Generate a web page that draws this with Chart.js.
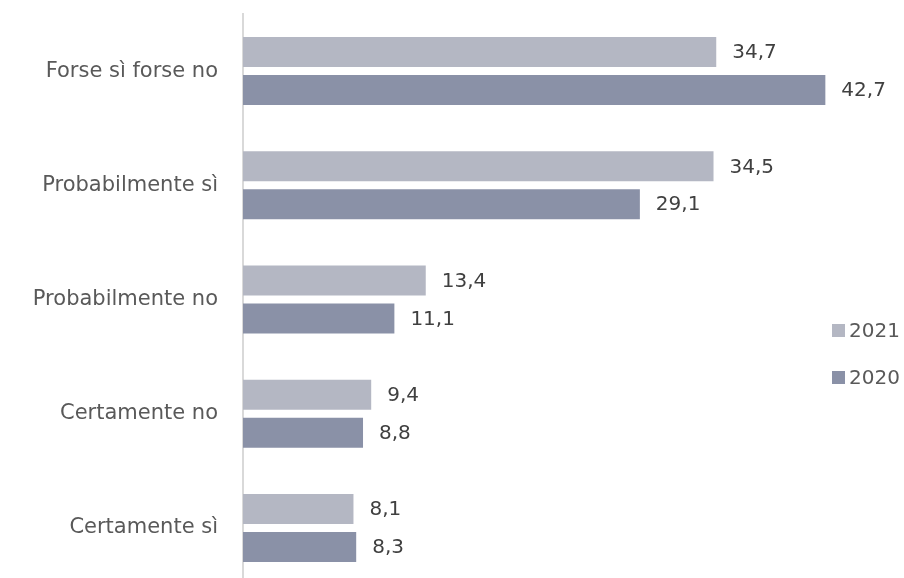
<!DOCTYPE html>
<html>
<head>
<meta charset="utf-8">
<script src="https://cdn.jsdelivr.net/npm/chart.js@4/dist/chart.umd.min.js"></script>
<style>
  html, body { margin: 0; padding: 0; background: #fff; overflow: hidden; }
  canvas { display: block; }
</style>
</head>
<body>
<canvas id="chart" width="904" height="590"></canvas>
<script>
// dati del grafico
const categories = ['Forse sì forse no', 'Probabilmente sì', 'Probabilmente no', 'Certamente no', 'Certamente sì'];
const seriesNames = ['2021', '2020'];
const values2021 = [34.7, 34.5, 13.4, 9.4, 8.1];
const values2020 = [42.7, 29.1, 11.1, 8.8, 8.3];
const colors = ['#b4b7c3', '#8a91a7'];

const fontFamily = '"DejaVu Sans", sans-serif';

// etichette valore a destra delle barre
const valueLabels = {
    id: 'valueLabels',
    afterDatasetsDraw(chart) {
        const ctx = chart.ctx;
        ctx.save();
        ctx.font = '20px ' + fontFamily;
        ctx.fillStyle = '#404040';
        ctx.textAlign = 'left';
        ctx.textBaseline = 'middle';
        chart.data.datasets.forEach((ds, i) => {
            chart.getDatasetMeta(i).data.forEach((bar, j) => {
                const txt = ds.data[j].toFixed(1).replace('.', ',');
                ctx.fillText(txt, bar.x + 16, bar.y + 1);
            });
        });
        ctx.restore();
    }
};

// legenda verticale a destra
const sideLegend = {
    id: 'sideLegend',
    afterDraw(chart) {
        const ctx = chart.ctx;
        ctx.save();
        ctx.font = '20px ' + fontFamily;
        ctx.textBaseline = 'middle';
        ctx.textAlign = 'left';
        seriesNames.forEach((name, i) => {
            const y = 331 + i * 47;
            ctx.fillStyle = colors[i];
            ctx.fillRect(832, y - 7, 13, 13);
            ctx.fillStyle = '#595959';
            ctx.fillText(name, 849, y + 1);
        });
        ctx.restore();
    }
};

new Chart(document.getElementById('chart'), {
    type: 'bar',
    data: {
        labels: categories,
        datasets: [{
            label: seriesNames[0],
            data: values2021,
            backgroundColor: colors[0],
            categoryPercentage: 0.665,
            barPercentage: 0.79
        }, {
            label: seriesNames[1],
            data: values2020,
            backgroundColor: colors[1],
            categoryPercentage: 0.665,
            barPercentage: 0.79
        }]
    },
    options: {
        indexAxis: 'y',
        responsive: false,
        animation: false,
        layout: { padding: { top: 14, bottom: 5, right: 20, left: 0 } },
        plugins: {
            legend: { display: false },
            tooltip: { enabled: false }
        },
        scales: {
            x: {
                display: false,
                min: 0,
                max: 47
            },
            y: {
                grid: { display: false },
                border: { color: '#d9d9d9', width: 2 },
                ticks: {
                    color: '#595959',
                    padding: 17,
                    font: { family: fontFamily, size: 21 }
                },
                afterFit(scale) {
                    scale.width = 243;
                    // niente padding extra sopra/sotto
                    scale.paddingTop = 0;
                    scale.paddingBottom = 0;
                }
            }
        }
    },
    plugins: [valueLabels, sideLegend]
});
</script>
</body>
</html>
